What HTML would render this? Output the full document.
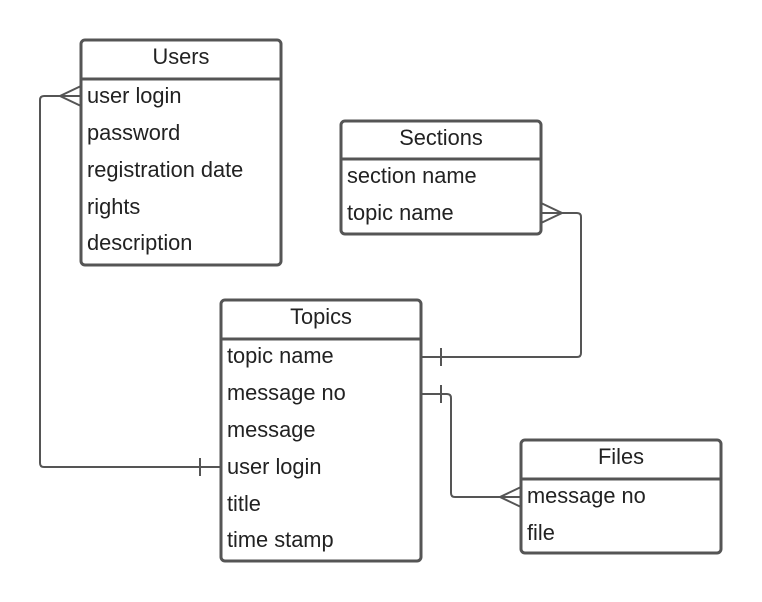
<!DOCTYPE html>
<html><head><style>
body{margin:0;background:#fff;width:762px;height:602px;overflow:hidden}
svg{position:absolute;left:0;top:0}
text{font-family:"Liberation Sans",sans-serif;font-size:21.8px;fill:#222}
</style></head><body>
<svg width="762" height="602" viewBox="0 0 762 602">
<g fill="none" stroke="#555" stroke-width="3">
<rect x="81" y="40" width="200" height="225" rx="4"/><line x1="81" y1="79" x2="281" y2="79"/>
<rect x="341" y="121" width="200" height="113" rx="4"/><line x1="341" y1="159" x2="541" y2="159"/>
<rect x="221" y="300" width="200" height="261" rx="4"/><line x1="221" y1="339" x2="421" y2="339"/>
<rect x="521" y="440" width="200" height="113" rx="4"/><line x1="521" y1="479" x2="721" y2="479"/>
</g>
<g fill="none" stroke="#555" stroke-width="2">
<path d="M81 96 H44 Q40 96 40 100 V463 Q40 467 44 467 H221"/>
<path d="M81 86 L60 96 L81 106"/><line x1="200" y1="458" x2="200" y2="476"/>
<path d="M541 213 H577 Q581 213 581 217 V353 Q581 357 577 357 H421"/>
<path d="M541 203 L562 213 L541 223"/><line x1="441" y1="348" x2="441" y2="366"/>
<path d="M421 394 H447 Q451 394 451 398 V493 Q451 497 455 497 H521"/>
<path d="M521 487 L500 497 L521 507"/><line x1="441" y1="385" x2="441" y2="403"/>
</g>
<text x="181" y="64" text-anchor="middle">Users</text>
<text x="87" y="103">user login</text><text x="87" y="140">password</text>
<text x="87" y="177">registration date</text><text x="87" y="214">rights</text>
<text x="87" y="250">description</text>
<text x="441" y="145" text-anchor="middle">Sections</text>
<text x="347" y="183">section name</text><text x="347" y="220">topic name</text>
<text x="321" y="324" text-anchor="middle">Topics</text>
<text x="227" y="363">topic name</text><text x="227" y="400">message no</text>
<text x="227" y="437">message</text><text x="227" y="474">user login</text>
<text x="227" y="511">title</text><text x="227" y="547">time stamp</text>
<text x="621" y="464" text-anchor="middle">Files</text>
<text x="527" y="503">message no</text><text x="527" y="540">file</text>
</svg>
</body></html>
